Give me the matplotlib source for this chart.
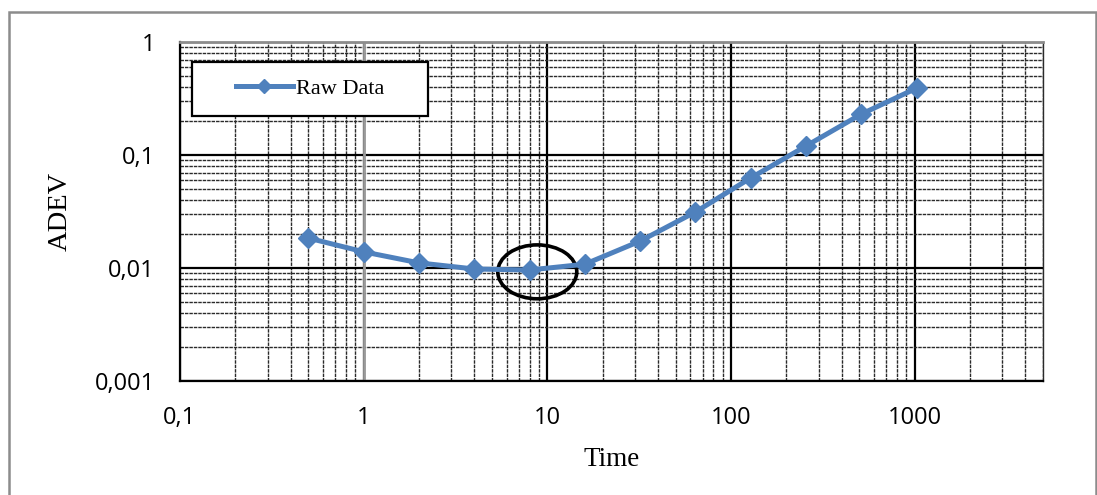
import numpy as np
import matplotlib
matplotlib.use('Agg')
import matplotlib.pyplot as plt
from matplotlib.ticker import LogLocator, FixedLocator, FuncFormatter, NullFormatter
from matplotlib.patches import Ellipse, Rectangle

# Allan deviation of the raw sensor data
tau = [0.5, 1, 2, 4, 8, 16, 32, 64, 128, 256, 512, 1024]
adev = [0.0184, 0.0139, 0.0111, 0.0098, 0.0096, 0.0108, 0.0173, 0.0313,
        0.0626, 0.120, 0.230, 0.390]

x_ticks = [0.1, 1, 10, 100, 1000]
y_ticks = [0.001, 0.01, 0.1, 1]

blue = '#4F81BD'
tick_font = 'Open Sans'
title_font = 'Liberation Serif'


def comma_fmt(v, pos):
    return ('%g' % v).replace('.', ',')


fig = plt.figure(figsize=(10.97, 4.95), dpi=100)
ax = fig.add_axes([180 / 1097, 1 - 381 / 495, 863 / 1097, 339 / 495])

ax.set_xscale('log')
ax.set_yscale('log')
ax.set_xlim(0.1, 5000)
ax.set_ylim(0.001, 1)

ax.xaxis.set_major_locator(FixedLocator(x_ticks))
ax.yaxis.set_major_locator(FixedLocator(y_ticks))
ax.xaxis.set_minor_locator(LogLocator(base=10, subs=np.arange(2, 10), numticks=30))
ax.yaxis.set_minor_locator(LogLocator(base=10, subs=np.arange(2, 10), numticks=30))
ax.xaxis.set_major_formatter(FuncFormatter(comma_fmt))
ax.yaxis.set_major_formatter(FuncFormatter(comma_fmt))
ax.xaxis.set_minor_formatter(NullFormatter())
ax.yaxis.set_minor_formatter(NullFormatter())

ax.grid(which='major', color='black', linewidth=1.6, zorder=0)
ax.grid(which='minor', color='#2a2a2a', linewidth=1.0, linestyle=(0, (2.5, 0.7)), zorder=0)
ax.set_axisbelow(True)
ax.axvline(1, color='#9a9a9a', linewidth=2.0, zorder=1)

ax.tick_params(which='both', length=0)
ax.tick_params(axis='x', pad=18)
ax.tick_params(axis='y', pad=18)
for lab in ax.get_xticklabels() + ax.get_yticklabels():
    lab.set_fontfamily(tick_font)
    lab.set_fontsize(17)

for side in ['left', 'bottom']:
    ax.spines[side].set_color('black')
    ax.spines[side].set_linewidth(1.6)
ax.spines['top'].set_color('#8c8c8c')
ax.spines['top'].set_linewidth(2.0)
ax.spines['right'].set_color('#2a2a2a')
ax.spines['right'].set_linewidth(1.0)

ax.set_xlabel('Time', fontfamily=title_font, fontsize=19.5, labelpad=12)
ax.set_ylabel('ADEV', fontfamily=title_font, fontsize=20.5, labelpad=16)

# highlight the minimum of the curve
ax.add_patch(Ellipse((0.414, 0.322), 0.0915, 0.159, transform=ax.transAxes,
                     fill=False, edgecolor='black', linewidth=2.6, zorder=3))

ax.plot(tau, adev, color=blue, linewidth=3.6, marker='D', markersize=10,
        label='Raw Data', zorder=4)

# legend box
box = (0.0139, 0.782, 0.273, 0.159)
ax.add_patch(Rectangle(box[:2], box[2], box[3], transform=ax.transAxes,
                       facecolor='white', edgecolor='black', linewidth=1.6, zorder=5))
leg = ax.legend(loc='center', bbox_to_anchor=box, frameon=False,
                handlelength=2.6, handletextpad=0.1, borderaxespad=0,
                prop={'family': title_font, 'size': 16})
leg.set_zorder(6)
for h in leg.legend_handles:
    h.set_markersize(7)

# outer chart border
fig.patches.append(Rectangle((9 / 1097, -0.05), 1086.5 / 1097, 1 - 12 / 495 + 0.05,
                             transform=fig.transFigure, fill=False,
                             edgecolor='#8c8c8c', linewidth=1.8))

fig.savefig('out.png', dpi=100)
